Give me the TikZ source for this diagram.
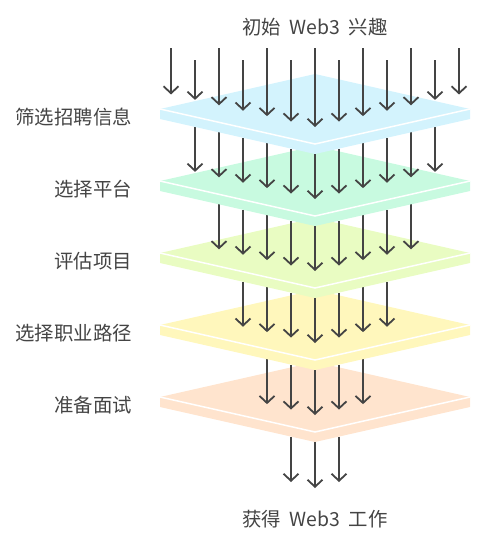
\documentclass[tikz,border=0pt]{standalone}
\usepackage{fontspec}
\newfontfamily\cjk{Noto Sans CJK SC}
\usetikzlibrary{arrows.meta}
\definecolor{ink}{RGB}{68,68,68}
\definecolor{layerA}{RGB}{211,243,253}
\definecolor{layerB}{RGB}{200,250,224}
\definecolor{layerC}{RGB}{233,252,194}
\definecolor{layerD}{RGB}{255,247,188}
\definecolor{layerE}{RGB}{255,228,206}

\begin{document}
\begin{tikzpicture}[x=1pt,y=-1pt,
  flow/.style={ink,line width=1.8pt,-{Straight Barb[length=7pt,width=15pt]}},
  stagetext/.style={text=ink,inner sep=0pt,font=\cjk\fontsize{19.4}{22}\selectfont}]
  \useasboundingbox (0,0) rectangle (487,538);
  % last arrows, from the lowest layer to the goal
  \foreach \k in {-1,...,1}
    \draw[flow] ({315+24*\k},{442-5.42*abs(\k)}) -- ({315+24*\k},{488-6*abs(\k)});
  % layers, lowest first
  \foreach \i/\c/\col in {5/397/layerE,4/325/layerD,3/253/layerC,2/181/layerB,1/109/layerA}{
    \fill[\col] (160,\c) -- (315,\c+35) -- (470,\c) -- (470,\c+10) -- (315,\c+45) -- (160,\c+10) -- cycle;
    \fill[\col] (160,\c) -- (315,\c-35) -- (470,\c) -- (315,\c+35) -- cycle;
    \draw[white,line width=1.5pt] (160,\c) -- (315,\c+35) -- (470,\c);
    \pgfmathtruncatemacro\m{7-\i}
    \ifnum\i>1
      \foreach \k in {-\m,...,\m}
        \draw[flow] ({315+24*\k},{\c-27-5.42*abs(\k)}) -- ({315+24*\k},{\c+18-5.42*abs(\k)});
    \fi
  }
  % arrows into the top layer
  \foreach \k in {-6,...,6}
    \draw[flow] ({315+24*\k},{48+12*mod(abs(\k),2)}) -- ({315+24*\k},{127-5.42*abs(\k)});
  \node[stagetext] (start) at (315,27) {初始\hspace{0.45em}Web3\hspace{0.45em}兴趣};
  \node[stagetext] (goal) at (315,519) {获得\hspace{0.45em}Web3\hspace{0.45em}工作};
  \node[stagetext,anchor=east] (screen) at (132,117) {筛选招聘信息};
  \node[stagetext,anchor=east] (platform) at (132,189) {选择平台};
  \node[stagetext,anchor=east] (assess) at (132,261) {评估项目};
  \node[stagetext,anchor=east] (path) at (132,333) {选择职业路径};
  \node[stagetext,anchor=east] (prep) at (132,405) {准备面试};
\end{tikzpicture}
\end{document}
